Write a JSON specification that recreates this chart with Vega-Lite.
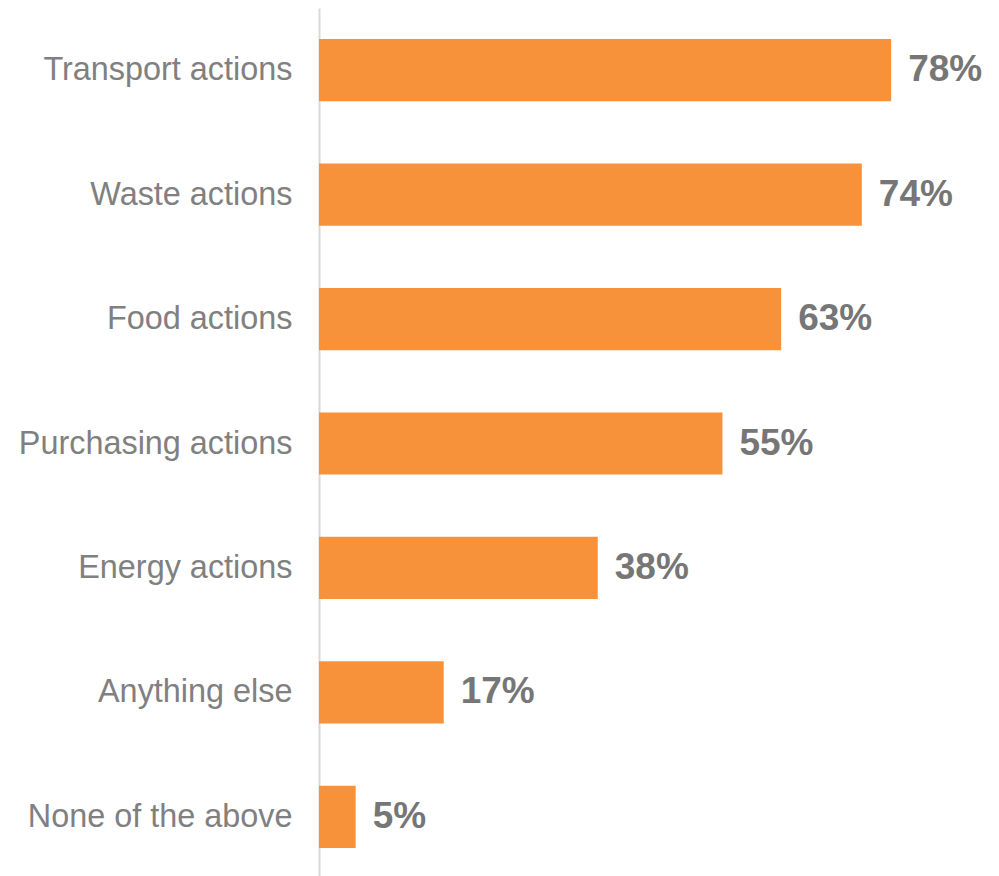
{
  "$schema": "https://vega.github.io/schema/vega-lite/v6.json",
  "autosize": "none",
  "width": 680,
  "height": 871,
  "padding": {"left": 319, "top": 8, "right": 0, "bottom": 0},
  "background": "white",
  "config": {"view": {"stroke": null}, "font": "Liberation Sans"},
  "data": {"values": [
    {"category": "Transport actions", "value": 0.78},
    {"category": "Waste actions", "value": 0.74},
    {"category": "Food actions", "value": 0.63},
    {"category": "Purchasing actions", "value": 0.55},
    {"category": "Energy actions", "value": 0.38},
    {"category": "Anything else", "value": 0.17},
    {"category": "None of the above", "value": 0.05}
  ]},
  "encoding": {
    "y": {
      "field": "category", "type": "nominal", "sort": null,
      "scale": {"paddingInner": 0.5, "paddingOuter": 0.25},
      "axis": {"title": null, "ticks": false, "domainColor": "#d9d9d9", "domainWidth": 2,
               "labelFont": "Liberation Sans", "labelFontSize": 32.4, "labelColor": "#808080",
               "labelPadding": 27, "labelLimit": 400}
    },
    "x": {
      "field": "value", "type": "quantitative",
      "scale": {"domain": [0, 0.927], "nice": false, "zero": true},
      "axis": null
    }
  },
  "layer": [
    {"mark": {"type": "bar", "color": "#F7923A"}},
    {"mark": {"type": "text", "align": "left", "baseline": "middle", "dx": 17, "fontSize": 37, "fontWeight": "bold", "color": "#767676", "font": "Liberation Sans"},
     "encoding": {"text": {"field": "value", "type": "quantitative", "format": ".0%"}}}
  ]
}
